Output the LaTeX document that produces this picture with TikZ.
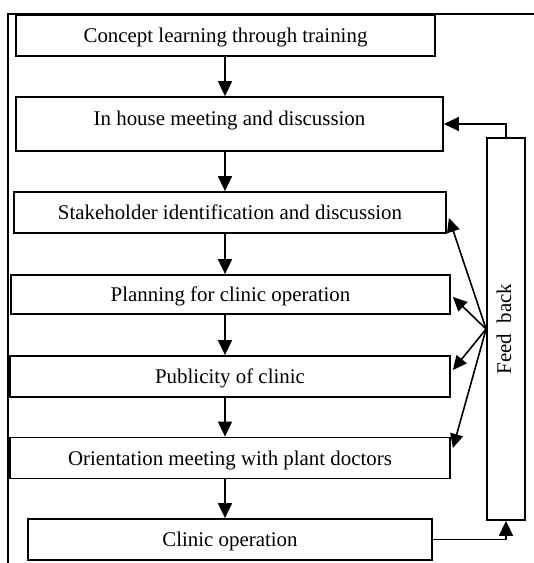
\documentclass[tikz,border=0pt]{standalone}
\usepackage{fontspec}
\setmainfont{Liberation Serif}
\usetikzlibrary{arrows.meta}
\begin{document}
\begin{tikzpicture}[x=1pt,y=1pt,
  every node/.style={font=\fontsize{20.9}{25}\selectfont},
  stepbox/.style={draw,line width=1.8pt,inner sep=0pt,minimum width=#1,text height=14.5pt,text depth=0pt},
  arr/.style={line width=1.6pt,-{Triangle[length=15pt,width=14pt]}},
  fbarr/.style={line width=1.6pt,-{Triangle[length=14pt,width=13pt]}}]
\useasboundingbox (0,0) rectangle (534,-563);
\draw[line width=2pt] (8,-563) -- (8,-14) -- (535,-14);
\node[stepbox=419pt,minimum height=41pt] (b1) at (225.5,-35.5) {Concept learning through training};
\node[stepbox=427pt,minimum height=54pt,text depth=12.5pt] (b2) at (229.5,-124) {In house meeting and discussion};
\node[stepbox=432pt,minimum height=41pt] (b3) at (230,-212.5) {Stakeholder identification and discussion};
\node[stepbox=439pt,minimum height=39pt] (b4) at (230.5,-294.5) {Planning for clinic operation};
\node[stepbox=440pt,minimum height=41pt] (b5) at (230,-376.5) {Publicity of clinic};
\node[stepbox=440pt,minimum height=41pt] (b6) at (230,-458) {Orientation meeting with plant doctors};
\node[stepbox=404pt,minimum height=41pt] (b7) at (230,-539.5) {Clinic operation};
\node[stepbox=382pt,minimum height=38pt,rotate=90,text height=14.5pt,text depth=4.5pt] (fb) at (506,-329) {Feed\hspace{0.5em}back};
\coordinate (ax) at (225,0);
\draw[arr] (b1.south -| ax) -- (b2.north -| ax);
\draw[arr] (b2.south -| ax) -- (b3.north -| ax);
\draw[arr] (b3.south -| ax) -- (b4.north -| ax);
\draw[arr] (b4.south -| ax) -- (b5.north -| ax);
\draw[arr] (b5.south -| ax) -- (b6.north -| ax);
\draw[arr] (b6.south -| ax) -- (b7.north -| ax);
\draw[arr] (fb.east) |- (b2.east);
\draw[arr] (b7.east) -| (fb.west);
\draw[fbarr] (fb.north) -- ([xshift=2pt,yshift=-5.5pt]b3.east);
\draw[fbarr] (fb.north) -- ([xshift=2pt,yshift=-2.5pt]b4.east);
\draw[fbarr] (fb.north) -- ([xshift=2pt,yshift=6.5pt]b5.east);
\draw[fbarr] (fb.north) -- ([xshift=2pt,yshift=10pt]b6.east);
\end{tikzpicture}
\end{document}
